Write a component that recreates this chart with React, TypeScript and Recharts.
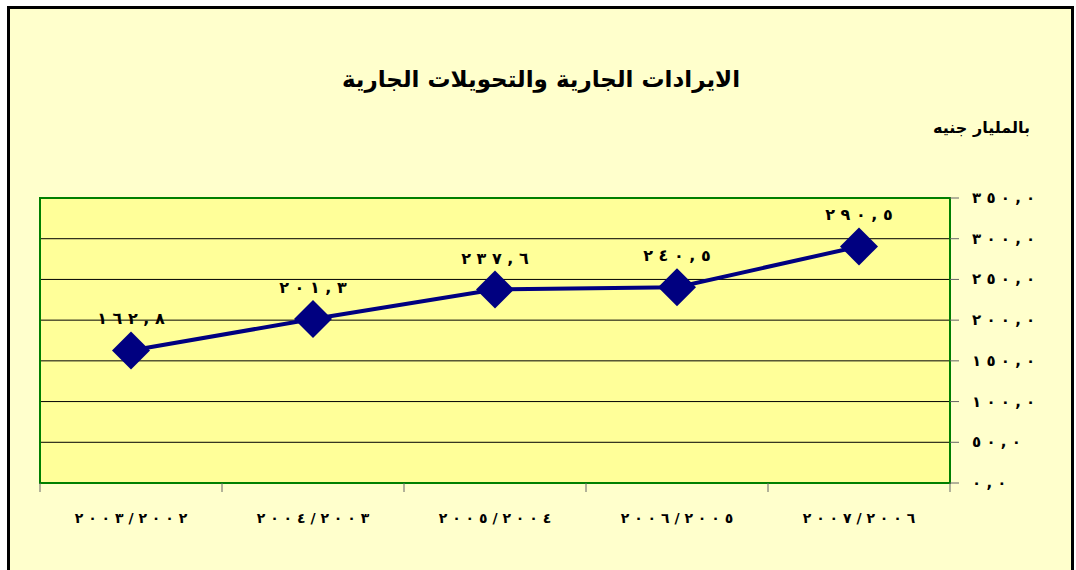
import { LineChart, Line, XAxis, YAxis, CartesianGrid, ReferenceArea, LabelList } from "recharts";

const PERIODS = ["٢٠٠٣/٢٠٠٢", "٢٠٠٤/٢٠٠٣", "٢٠٠٥/٢٠٠٤", "٢٠٠٦/٢٠٠٥", "٢٠٠٧/٢٠٠٦"];
const REVENUES = [162.8, 201.3, 237.6, 240.5, 290.5];
const Y_TICKS = [0, 50, 100, 150, 200, 250, 300, 350];

const TITLE = "الايرادات الجارية والتحويلات الجارية";
const UNIT = "بالمليار جنيه";

const FONT = "'DejaVu Sans', sans-serif";
const NAVY = "#000080";

const AR_DIGITS = "٠١٢٣٤٥٦٧٨٩";
const toArabic = (v: number) =>
  v.toFixed(1).replace(".", ",").replace(/\d/g, (d) => AR_DIGITS[+d]);

// chrome ignores letter-spacing on arabic runs, so spread the glyphs with spaces
// inside a left-to-right override to keep the digit order
const spaced = (s: string) => "\u202D" + [...s].join(" ") + "\u202C";

const data = PERIODS.map((period, i) => ({ period, value: REVENUES[i] }));

const PeriodTick = ({ x, y, payload, index }: any) => {
  const half = payload?.offset ?? 0;
  const last = index === PERIODS.length - 1;
  return (
    <g>
      <line x1={x - half} x2={x - half} y1={y} y2={y + 9} stroke="#666" />
      {last && <line x1={x + half} x2={x + half} y1={y} y2={y + 9} stroke="#666" />}
      <text x={x} y={y + 40} textAnchor="middle" fontFamily={FONT} fontWeight="bold" fontSize={14} fill="#000">
        {spaced(payload.value)}
      </text>
    </g>
  );
};

const ValueTick = ({ x, y, payload }: any) => (
  <text x={x} y={y} dy={5} textAnchor="start" fontFamily={FONT} fontWeight="bold" fontSize={15} fill="#000">
    {spaced(toArabic(payload.value))}
  </text>
);

const Diamond = ({ cx, cy }: any) => {
  if (cx == null || cy == null) return null;
  const r = 19;
  return <polygon points={`${cx},${cy - r} ${cx + r},${cy} ${cx},${cy + r} ${cx - r},${cy}`} fill={NAVY} />;
};

const PointLabel = ({ x, y, value }: any) => (
  <text x={x} y={y - 26} textAnchor="middle" fontFamily={FONT} fontWeight="bold" fontSize={16} fill="#000">
    {spaced(toArabic(value))}
  </text>
);

export default function App() {
  return (
    <div style={{ position: "absolute", left: 0, top: 0, width: 1076, height: 570, background: "#fff", overflow: "hidden" }}>
      <div
        style={{
          position: "absolute",
          left: 7,
          top: 6,
          width: 1061,
          height: 600,
          border: "3px solid #000",
          background: "#FFFFCC",
        }}
      />
      <div
        style={{
          position: "absolute",
          left: 0,
          width: 1082,
          top: 66,
          textAlign: "center",
          fontFamily: FONT,
          fontWeight: "bold",
          fontSize: 23,
          direction: "rtl",
          color: "#000",
        }}
      >
        {TITLE}
      </div>
      <div
        style={{
          position: "absolute",
          right: 46,
          top: 118,
          fontFamily: FONT,
          fontWeight: "bold",
          fontSize: 16,
          direction: "rtl",
          color: "#000",
        }}
      >
        {UNIT}
      </div>
      <div style={{ position: "absolute", left: 0, top: 0 }}>
        <LineChart width={1076} height={570} data={data} margin={{ top: 198, right: 26, bottom: 47, left: 40 }}>
          <CartesianGrid vertical={false} stroke="#000" fill="#FFFF99" fillOpacity={1} />
          <XAxis
            dataKey="period"
            scale="band"
            height={40}
            tickSize={0}
            tickMargin={0}
            axisLine={false}
            tickLine={false}
            interval={0}
            tick={<PeriodTick />}
          />
          <YAxis
            orientation="right"
            width={100}
            domain={[0, 350]}
            ticks={Y_TICKS}
            interval={0}
            tickSize={9}
            tickMargin={13}
            axisLine={false}
            tickLine={{ stroke: "#666" }}
            tick={<ValueTick />}
          />
          <ReferenceArea y1={0} y2={350} fill="none" stroke="#008000" strokeWidth={2} fillOpacity={0} ifOverflow="visible" />
          <Line
            dataKey="value"
            stroke={NAVY}
            strokeWidth={4}
            dot={<Diamond />}
            activeDot={false}
            isAnimationActive={false}
          >
            <LabelList dataKey="value" content={<PointLabel />} />
          </Line>
        </LineChart>
      </div>
    </div>
  );
}
